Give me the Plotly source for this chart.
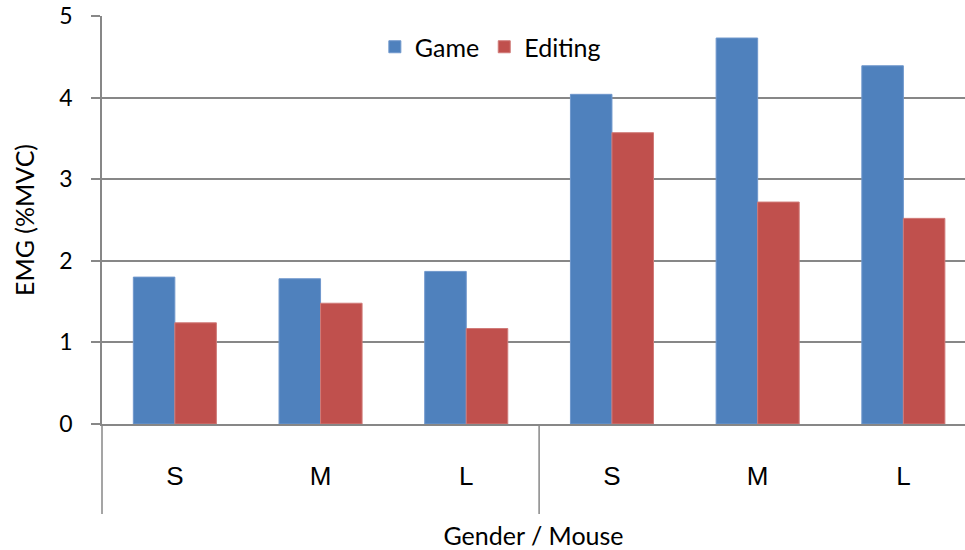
import plotly.graph_objects as go

# EMG activity by gender group and mouse size
groups = ["G1", "G1", "G1", "G2", "G2", "G2"]
sizes = ["S", "M", "L", "S", "M", "L"]
game = [1.80, 1.78, 1.87, 4.04, 4.73, 4.39]
editing = [1.24, 1.48, 1.17, 3.57, 2.72, 2.52]

y_ticks = [0, 1, 2, 3, 4, 5]

keys = [f"{g}-{s}" for g, s in zip(groups, sizes)]

GRID = "#878787"
BLUE = "#4F81BD"
RED = "#C0504D"
LABEL_FONT = "Lato, 'Open Sans', sans-serif"
CAT_FONT = "'Liberation Sans', Arial, sans-serif"

fig = go.Figure()
fig.add_trace(go.Bar(name="Game", x=keys, y=game, marker=dict(color=BLUE, line=dict(color="#6f97cc", width=1))))
fig.add_trace(go.Bar(name="Editing", x=keys, y=editing, marker=dict(color=RED, line=dict(color="#d07a78", width=1))))

fig.update_layout(
    width=965, height=550,
    margin=dict(l=102, r=0, t=16, b=126),
    plot_bgcolor="white", paper_bgcolor="white",
    barmode="group", bargap=0.43, bargroupgap=0,
    font=dict(family=LABEL_FONT, size=22, color="black"),
    legend=dict(orientation="h", x=0.45, xanchor="center", y=0.924, yanchor="middle",
                font=dict(family=LABEL_FONT, size=25), bgcolor="rgba(0,0,0,0)",
                itemwidth=30, traceorder="normal"),
    showlegend=True,
)

fig.update_yaxes(
    range=[0, 5], tickvals=y_ticks, showgrid=True, gridcolor=GRID, gridwidth=1.5,
    showline=True, linecolor=GRID, linewidth=1.5,
    ticks="outside", ticklen=9, tickcolor=GRID, tickwidth=1.5,
    tickfont=dict(family=LABEL_FONT, size=23), ticklabelstandoff=14,
    zeroline=False,
    title=dict(text="EMG (%MVC)", font=dict(family=LABEL_FONT, size=25), standoff=18),
)

# Category axis: the plot area continues slightly past the right edge of the page
fig.update_xaxes(
    type="category", tickvals=keys, ticktext=sizes, range=[-0.5, 5.423],
    showline=True, linecolor=GRID, linewidth=1.5,
    ticks="", ticklabelstandoff=28,
    tickfont=dict(family=CAT_FONT, size=26),
    title=dict(text="Gender / Mouse", font=dict(family=LABEL_FONT, size=25), standoff=38),
)

# Divider lines below the category axis: left edge and between the two groups
drop = 90 / 408
fig.add_shape(type="line", xref="paper", yref="paper", x0=0, x1=0, y0=0, y1=-drop,
              line=dict(color=GRID, width=1.5))
fig.add_shape(type="line", xref="x", yref="paper", x0=2.5, x1=2.5, y0=0, y1=-drop,
              line=dict(color=GRID, width=1.5))

fig.write_html("out.html")
